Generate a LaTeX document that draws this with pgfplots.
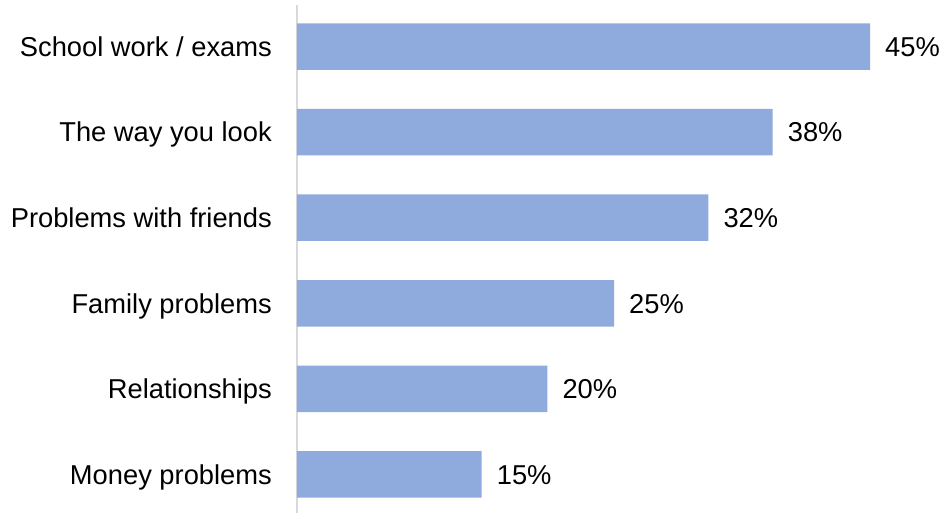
\documentclass[border=0pt]{standalone}
\usepackage{pgfplots}
\pgfplotsset{compat=1.18}
\usepackage{fontspec}
\setmainfont{Liberation Sans}
\definecolor{barblue}{HTML}{8FAADC}
\definecolor{axgray}{HTML}{D9D9D9}
\begin{document}
\begin{tikzpicture}
\useasboundingbox (0,0) rectangle (943pt,513pt);
\begin{axis}[
  at={(297pt,0pt)}, anchor=south west,
  scale only axis, width=633.75pt, height=508pt,
  xbar, bar width=46.5pt, bar shift=0pt,
  xmin=0, xmax=50, ymin=-0.45, ymax=5.485,
  enlargelimits=false,
  axis x line=none, axis y line*=left,
  y axis line style={draw=axgray, line width=2pt, -},
  ytick={0,...,5},
  yticklabels={Money problems, Relationships, Family problems, Problems with friends, The way you look, School work / exams},
  major tick length=0pt,
  yticklabel style={font=\fontsize{27.3pt}{32pt}\selectfont, inner sep=0pt, anchor=east, xshift=-25pt, text height=19.5pt, text depth=0pt, text=black},
  nodes near coords, point meta=explicit symbolic,
  nodes near coords style={font=\fontsize{27.3pt}{32pt}\selectfont, inner sep=0pt, anchor=west, xshift=15pt, text height=19.5pt, text depth=0pt, text=black},
]
\addplot[fill=barblue, draw=none] coordinates {
  (14.57,0) [15\%]
  (19.75,1) [20\%]
  (25.01,2) [25\%]
  (32.45,3) [32\%]
  (37.53,4) [38\%]
  (45.21,5) [45\%]
};
\end{axis}
\end{tikzpicture}
\end{document}
